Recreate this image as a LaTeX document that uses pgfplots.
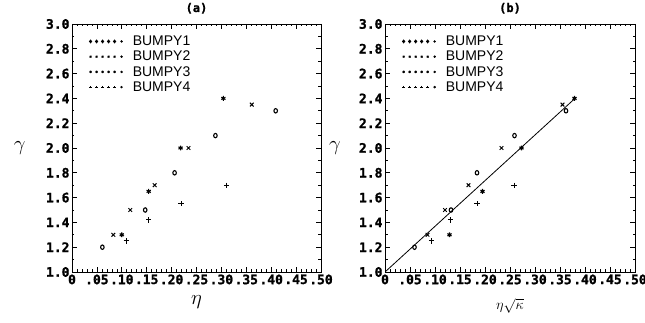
\documentclass[border=0pt]{standalone}
\usepackage{pgfplots}
\pgfplotsset{compat=1.18}
\usepackage{fontspec}
\setmainfont{Liberation Sans}
\newfontfamily\tickfont[FakeBold=1.2]{DejaVu Sans Mono Bold}
\newcommand\tk[1]{\hbox{\tickfont\fontsize{13}{15}\selectfont #1}}
\pgfplotsset{
  myax/.style={
    scale only axis, width=249pt, height=248pt,
    xmin=0, xmax=0.5, ymin=1, ymax=3,
    xtick={0,0.05,0.1,0.15,0.2,0.25,0.3,0.35,0.4,0.45,0.5},
    xticklabels={\tk{0},\tk{.05},\tk{.10},\tk{.15},\tk{.20},\tk{.25},\tk{.30},\tk{.35},\tk{.40},\tk{.45},\tk{.50}},
    ytick={1,1.2,1.4,1.6,1.8,2,2.2,2.4,2.6,2.8,3},
    yticklabels={\tk{1.0},\tk{1.2},\tk{1.4},\tk{1.6},\tk{1.8},\tk{2.0},\tk{2.2},\tk{2.4},\tk{2.6},\tk{2.8},\tk{3.0}},
    minor x tick num=4, minor y tick num=1,
    tick align=inside, major tick length=5pt, minor tick length=2.5pt,
    tick style={black, line width=0.6pt},
    axis line style={line width=0.7pt},
    xticklabel style={yshift=1pt},
    yticklabel style={xshift=1pt},
    title style={at={(0.5,1)}, anchor=base, yshift=6pt, font=\tickfont\fontsize{12}{14}\selectfont},
    legend style={draw=none, fill=none, at={(0.065,0.965)}, anchor=north west,
      font=\fontsize{14}{16}\selectfont, row sep=0pt, inner sep=1pt,
      nodes={inner xsep=3pt}},
    legend cell align=left,
    legend image code/.code={
      \draw[##1, mark size=1.2pt, line width=0.5pt] plot[only marks] coordinates {(0pt,0pt) (6pt,0pt) (12pt,0pt) (18pt,0pt) (24pt,0pt)};
      \fill (31pt,0pt) circle (1pt);
    },
  },
  s1/.style={only marks, mark=o, mark size=2.2pt, mark options={xscale=0.8, line width=1.1pt}},
  s2/.style={only marks, mark=x, mark size=2.6pt, mark options={line width=1.0pt}},
  s3/.style={only marks, mark=asterisk, mark size=2.4pt, mark options={line width=1.1pt}},
  s4/.style={only marks, mark=+, mark size=2.6pt, mark options={line width=1.0pt}},
}
\begin{document}
\begin{tikzpicture}
\useasboundingbox (0,0) rectangle (645pt,323pt);
\begin{axis}[myax, at={(72pt,51pt)}, anchor=south west, title={(a)},
  xlabel={$\eta$}, ylabel={$\gamma$},
  xlabel style={at={(axis description cs:0.5,0)}, anchor=center, yshift=-30pt, font=\fontsize{22}{24}\selectfont},
  ylabel style={at={(axis description cs:-0.21,0.5)}, anchor=center, rotate=-90, font=\fontsize{22}{24}\selectfont}]
\addplot[s1] coordinates {(0.061,1.2) (0.147,1.5) (0.206,1.8) (0.288,2.1) (0.409,2.3)};
\addlegendentry{\kern7pt BUMPY1}
\addplot[s2] coordinates {(0.083,1.3) (0.117,1.5) (0.166,1.7) (0.234,2.0) (0.361,2.35)};
\addlegendentry{\kern7pt BUMPY2}
\addplot[s3] coordinates {(0.100,1.3) (0.154,1.65) (0.218,2.0) (0.304,2.4)};
\addlegendentry{\kern7pt BUMPY3}
\addplot[s4] coordinates {(0.109,1.25) (0.154,1.42) (0.219,1.55) (0.310,1.70)};
\addlegendentry{\kern7pt BUMPY4}
\end{axis}
\begin{axis}[myax, width=250pt, at={(385pt,51pt)}, anchor=south west, title={(b)},
  xlabel={$\eta\sqrt{\kappa}$}, ylabel={$\gamma$},
  xlabel style={at={(axis description cs:0.5,0)}, anchor=center, yshift=-34pt, font=\fontsize{15}{17}\selectfont},
  ylabel style={at={(axis description cs:-0.2,0.5)}, anchor=center, rotate=-90, font=\fontsize{22}{24}\selectfont}]
\addplot[s1] coordinates {(0.059,1.2) (0.132,1.5) (0.184,1.8) (0.259,2.1) (0.362,2.3)};
\addlegendentry{\kern7pt BUMPY1}
\addplot[s2] coordinates {(0.085,1.3) (0.120,1.5) (0.167,1.7) (0.233,2.0) (0.355,2.35)};
\addlegendentry{\kern7pt BUMPY2}
\addplot[s3] coordinates {(0.129,1.3) (0.195,1.65) (0.273,2.0) (0.379,2.4)};
\addlegendentry{\kern7pt BUMPY3}
\addplot[s4] coordinates {(0.093,1.25) (0.131,1.42) (0.184,1.55) (0.258,1.70)};
\addlegendentry{\kern7pt BUMPY4}
\addplot[black, line width=0.8pt, forget plot] coordinates {(0,1) (0.38,2.4)};
\end{axis}
\end{tikzpicture}
\end{document}
